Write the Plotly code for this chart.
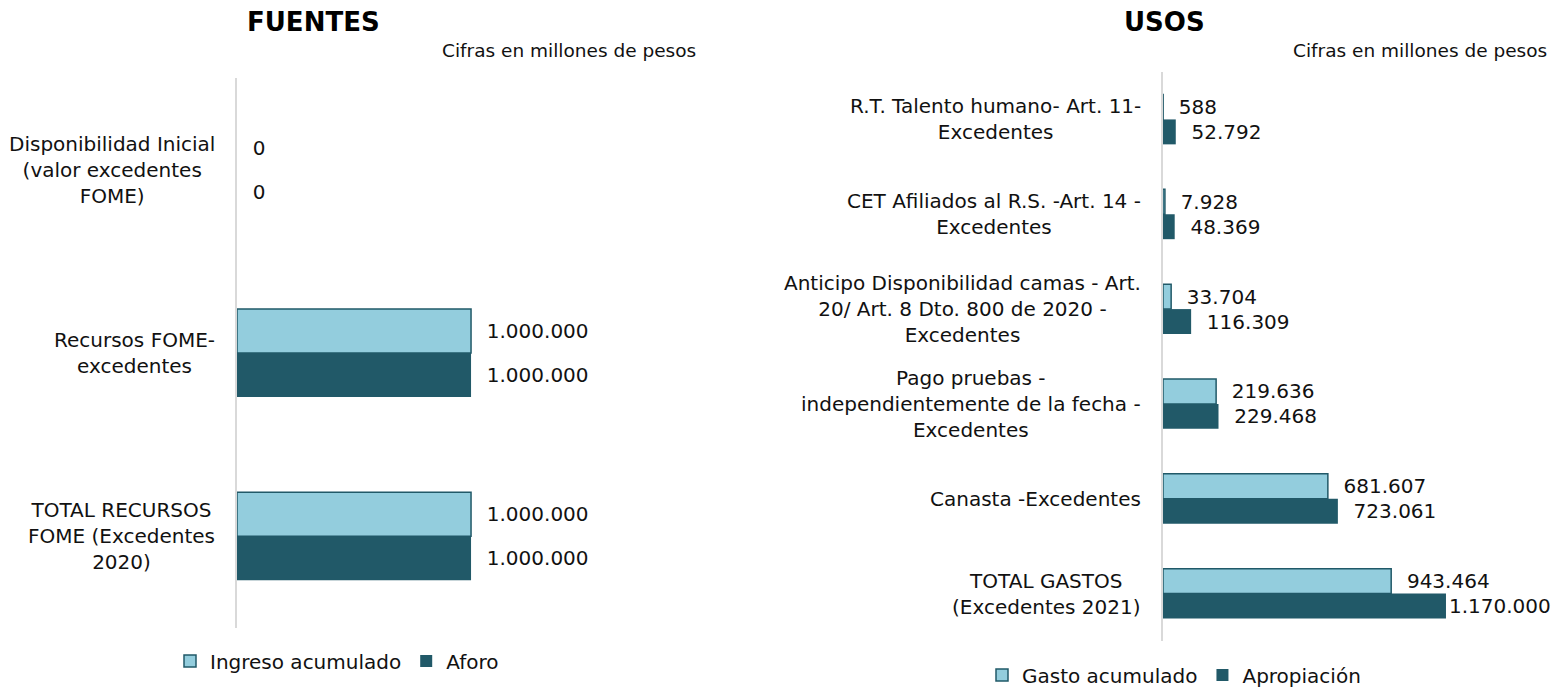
import plotly.graph_objects as go

# ---- data ----
fuentes_cats = ["Disponibilidad Inicial<br>(valor excedentes<br>FOME)",
                "Recursos FOME-<br>excedentes",
                "TOTAL RECURSOS<br>FOME (Excedentes<br>2020)"]
ingreso_acumulado = [0, 1000000, 1000000]
aforo = [0, 1000000, 1000000]

usos_cats = ["R.T. Talento humano- Art. 11-<br>Excedentes",
             "CET Afiliados al R.S. -Art. 14 -<br>Excedentes",
             "Anticipo Disponibilidad camas - Art.<br>20/ Art. 8 Dto. 800 de 2020 -<br>Excedentes",
             "Pago pruebas -<br>independientemente de la fecha -<br>Excedentes",
             "Canasta -Excedentes",
             "TOTAL GASTOS<br>(Excedentes 2021)"]
gasto_acumulado = [588, 7928, 33704, 219636, 681607, 943464]
apropiacion = [52792, 48369, 116309, 229468, 723061, 1170000]

LIGHT = "#93CDDD"
DARK = "#215968"
TXT = "#111111"
FONT = "DejaVu Sans"
W, H = 1557, 688


def fmt(v):
    return f"{v:,.0f}".replace(",", ".")


def outline(vals, w):
    return [0 if v == 0 else w for v in vals]


fig = go.Figure()

wl = 0.24
wr = 0.263
pad = "  "
tf = dict(size=20, color=TXT, family=FONT)

# ---- FUENTES ----
fig.add_trace(go.Bar(
    y=fuentes_cats, x=ingreso_acumulado, orientation="h", name="Ingreso acumulado",
    marker=dict(color=LIGHT, line=dict(color=DARK, width=outline(ingreso_acumulado, 1.5))),
    width=wl, offset=-wl, text=[pad + fmt(v) for v in ingreso_acumulado],
    textposition="outside", constraintext="none", cliponaxis=False, textfont=tf,
    xaxis="x", yaxis="y", showlegend=False))
fig.add_trace(go.Bar(
    y=fuentes_cats, x=aforo, orientation="h", name="Aforo",
    marker=dict(color=DARK, line=dict(color=DARK, width=0)),
    width=wl, offset=0, text=[pad + fmt(v) for v in aforo],
    textposition="outside", constraintext="none", cliponaxis=False, textfont=tf,
    xaxis="x", yaxis="y", showlegend=False))
# legend entries
fig.add_trace(go.Bar(x=[None], y=[None], orientation="h", name="Ingreso acumulado",
                     marker=dict(color=LIGHT, line=dict(color=DARK, width=1.5)),
                     xaxis="x", yaxis="y", legend="legend"))
fig.add_trace(go.Bar(x=[None], y=[None], orientation="h", name="Aforo",
                     marker=dict(color=DARK, line=dict(color=DARK, width=0)),
                     xaxis="x", yaxis="y", legend="legend"))

# ---- USOS ----
fig.add_trace(go.Bar(
    y=usos_cats, x=gasto_acumulado, orientation="h", name="Gasto acumulado",
    marker=dict(color=LIGHT, line=dict(color=DARK, width=1.5)),
    width=wr, offset=-wr, text=[pad + fmt(v) for v in gasto_acumulado],
    textposition="outside", constraintext="none", cliponaxis=False, textfont=tf,
    xaxis="x2", yaxis="y2", legend="legend2"))
ap_text = [pad + fmt(v) for v in apropiacion]
ap_text[-1] = fmt(apropiacion[-1])
fig.add_trace(go.Bar(
    y=usos_cats, x=apropiacion, orientation="h", name="Apropiación",
    marker=dict(color=DARK, line=dict(color=DARK, width=0)),
    width=wr, offset=0, text=ap_text,
    textposition="outside", constraintext="none", cliponaxis=False, textfont=tf,
    xaxis="x2", yaxis="y2", legend="legend2"))

# category labels (centered multi-line)
annotations = []
for c in fuentes_cats:
    annotations.append(dict(x=0, y=c, xref="x domain", yref="y", text=c,
                            xanchor="right", yanchor="middle", align="center",
                            xshift=-20, showarrow=False, font=tf))
for c in usos_cats:
    annotations.append(dict(x=0, y=c, xref="x2 domain", yref="y2", text=c,
                            xanchor="right", yanchor="middle", align="center",
                            xshift=-20, showarrow=False, font=tf))

annotations += [
    dict(x=313 / W, y=1 - 22 / H, xref="paper", yref="paper", text="<b>FUENTES</b>",
         showarrow=False, xanchor="center", yanchor="middle",
         font=dict(size=26, color="#000000", family=FONT)),
    dict(x=1164 / W, y=1 - 22 / H, xref="paper", yref="paper", text="<b>USOS</b>",
         showarrow=False, xanchor="center", yanchor="middle",
         font=dict(size=26, color="#000000", family=FONT)),
    dict(x=698 / W, y=1 - 50 / H, xref="paper", yref="paper", text="Cifras en millones de pesos",
         showarrow=False, xanchor="right", yanchor="middle",
         font=dict(size=18.5, color=TXT, family=FONT)),
    dict(x=1549 / W, y=1 - 50 / H, xref="paper", yref="paper", text="Cifras en millones de pesos",
         showarrow=False, xanchor="right", yanchor="middle",
         font=dict(size=18.5, color=TXT, family=FONT)),
]

nL, nR = len(fuentes_cats), len(usos_cats)

fig.update_layout(
    width=W, height=H,
    margin=dict(l=0, r=0, t=0, b=0, autoexpand=False),
    paper_bgcolor="white", plot_bgcolor="white",
    barmode="overlay",
    font=dict(family=FONT, size=20, color=TXT),
    xaxis=dict(domain=[237 / W, 710 / W], range=[0, 2021000], visible=False, fixedrange=True),
    yaxis=dict(domain=[(H - 628) / H, (H - 78) / H], range=[nL - 0.5, -0.5],
               type="category", categoryorder="array", categoryarray=fuentes_cats,
               showticklabels=False, ticks="", showgrid=False, zeroline=False,
               showline=True, linecolor="#d9d9d9", linewidth=2, anchor="x", fixedrange=True),
    xaxis2=dict(domain=[1163 / W, 1.0], range=[0, 1629000], visible=False, fixedrange=True,
                anchor="y2"),
    yaxis2=dict(domain=[(H - 641) / H, (H - 72) / H], range=[nR - 0.5, -0.5],
                type="category", categoryorder="array", categoryarray=usos_cats,
                showticklabels=False, ticks="", showgrid=False, zeroline=False,
                showline=True, linecolor="#d9d9d9", linewidth=2, anchor="x2", fixedrange=True),
    legend=dict(orientation="h", x=170 / W, y=(H - 661) / H, xanchor="left", yanchor="middle",
                font=dict(size=20, family=FONT, color=TXT), bgcolor="rgba(0,0,0,0)"),
    legend2=dict(orientation="h", x=982 / W, y=(H - 675) / H, xanchor="left", yanchor="middle",
                 font=dict(size=20, family=FONT, color=TXT), bgcolor="rgba(0,0,0,0)"),
    annotations=annotations,
    showlegend=True,
)

fig.write_html("out.html", config={"displayModeBar": False},
               post_script="document.body.style.margin='0';")
